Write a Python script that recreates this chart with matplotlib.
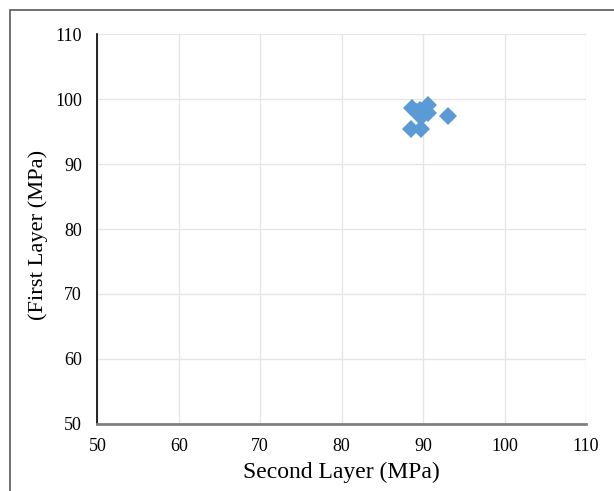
import matplotlib
matplotlib.use('Agg')
import matplotlib.pyplot as plt
from matplotlib.patches import Rectangle

# strength pairs (MPa)
second_layer = [88.6, 89.6, 90.6, 90.0, 89.8, 90.6, 93.0, 88.5, 89.7, 89.2]
first_layer = [98.6, 98.3, 99.1, 97.8, 97.2, 97.9, 97.4, 95.4, 95.4, 98.0]

xticks = [50, 60, 70, 80, 90, 100, 110]
yticks = [50, 60, 70, 80, 90, 100, 110]

plt.rcParams['font.family'] = ['Liberation Serif', 'DejaVu Serif']

fig = plt.figure(figsize=(6.14, 4.91), dpi=100)
fig.patches.append(Rectangle((10 / 614, -0.1), 1.2, 1 - 10 / 491 + 0.1,
                             transform=fig.transFigure, fill=False,
                             edgecolor='#595959', linewidth=1.2))

ax = fig.add_axes([0.1585, 0.137, 0.7959, 0.793])
ax.plot(second_layer, first_layer, 'D', color='#5B9BD5', markersize=9.5,
        markeredgewidth=0, zorder=3)

ax.set_xlim(50, 110)
ax.set_ylim(50, 110)
ax.set_xticks(xticks)
ax.set_yticks(yticks)
ax.grid(True, color='#E6E6E6', linewidth=1)
ax.tick_params(length=0, labelsize=13)
ax.tick_params(axis='x', pad=10)
ax.tick_params(axis='y', pad=11)
for s in ['top', 'right']:
    ax.spines[s].set_visible(False)
ax.spines['left'].set_color('black')
ax.spines['left'].set_linewidth(1.2)
ax.spines['bottom'].set_color('#808080')
ax.spines['bottom'].set_linewidth(2)

ax.set_xlabel('Second Layer (MPa)', fontsize=17, labelpad=5)
ax.set_ylabel('(First Layer (MPa)', fontsize=16.2)
ax.yaxis.set_label_coords(-0.1, 0.485)

fig.savefig('out.png', dpi=100)
